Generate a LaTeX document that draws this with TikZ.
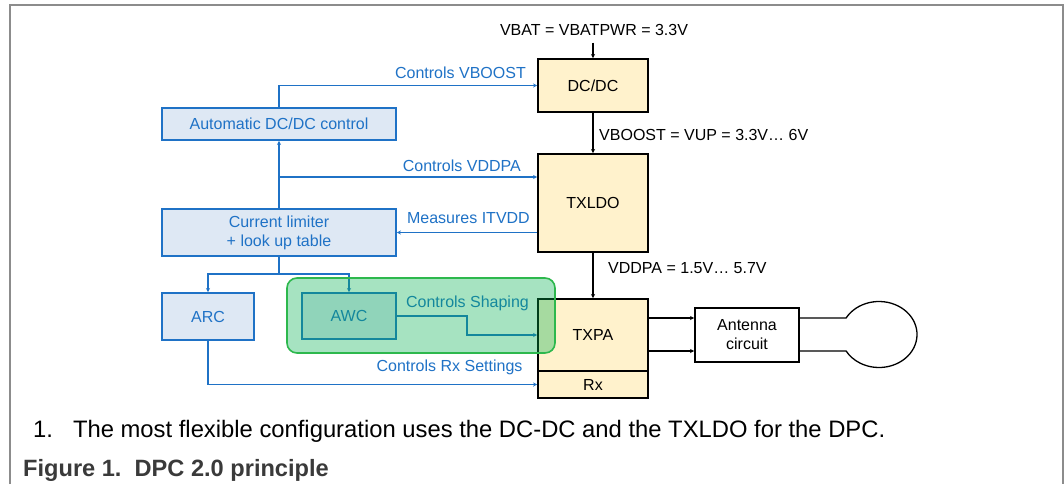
\documentclass[tikz,border=0pt]{standalone}
\usepackage{fontspec}
\setmainfont{Liberation Sans}
\usetikzlibrary{arrows.meta,calc}
\definecolor{myblue}{HTML}{1F72C6}
\definecolor{bfill}{HTML}{DEE8F4}
\definecolor{yfill}{HTML}{FFF2CC}
\definecolor{grnb}{HTML}{2DB84D}
\definecolor{grnf}{HTML}{00B050}
\definecolor{framegrey}{HTML}{8C8C8C}
\definecolor{capgrey}{HTML}{3A3A3A}
\begin{document}
\begin{tikzpicture}[x=1pt,y=-1pt,
 every node/.style={font=\fontsize{16}{19}\selectfont},
 yellowbox/.style={draw=black,line width=1.6pt,fill=yfill,minimum width=110pt,inner sep=0pt},
 bluebox/.style={draw=myblue,line width=1.6pt,fill=bfill,text=myblue,inner sep=0pt},
 bline/.style={myblue,line width=1.5pt},
 kline/.style={black,line width=1.3pt},
 tip/.style={-{Stealth[length=4.2pt,width=4.2pt]}},
 blab/.style={text=myblue,inner sep=0pt,text height=11.5pt,text depth=3.4pt},
 klab/.style={text=black,inner sep=0pt,text height=11.5pt,text depth=3.4pt},
]
\useasboundingbox (0,0) rectangle (1064,484);
\fill[white] (0,0) rectangle (1064,484);
\draw[framegrey,line width=1.2pt] (10,484) -- (10,5) -- (1063,5) -- (1063,484);

% power chain
\node[klab] (vbat) at (594,31) {VBAT = VBATPWR = 3.3V};
\node[yellowbox,minimum height=53pt] (dcdc) at (593,85.5) {DC/DC};
\node[yellowbox,minimum height=98pt] (txldo) at (593,203) {TXLDO};
\node[yellowbox,minimum height=72pt] (txpa) at (593,335) {TXPA};
\node[yellowbox,minimum height=27pt] (rx) at (593,384.5) {Rx};
\node[draw=black,line width=1.6pt,fill=white,minimum width=104pt,minimum height=54pt,align=center,inner sep=0pt] (ant) at (747,335) {Antenna\\circuit};

\draw[kline,tip] ([yshift=-4pt]vbat.south -| dcdc.north) -- (dcdc.north);
\draw[kline,tip] (dcdc.south) -- (txldo.north);
\node[klab,anchor=west] (vboost) at (599,136) {VBOOST = VUP = 3.3V… 6V};
\draw[kline,tip] (txldo.south) -- (txpa.north);
\node[klab,anchor=west] (vddpa) at (608,269) {VDDPA = 1.5V… 5.7V};

% control blocks
\node[bluebox,minimum width=234pt,minimum height=32pt] (auto) at (279,124) {Automatic DC/DC control};
\node[bluebox,minimum width=234pt,minimum height=47pt,align=center] (curlim) at (279,232.5) {Current limiter\\+ look up table};
\node[bluebox,minimum width=92pt,minimum height=47pt] (arc) at (208,316.5) {ARC};
\node[bluebox,minimum width=94pt,minimum height=46pt] (awc) at (349,316) {AWC};

\draw[bline,tip] (auto.north) |- (dcdc.west);
\node[blab,anchor=east] (l1) at (526,74) {Controls VBOOST};
\draw[bline,tip] (curlim.north) -- (auto.south);
\coordinate (br) at (279,177);
\draw[bline,tip] (br) -- (br -| txldo.west);
\node[blab,anchor=east] (l2) at (521,167) {Controls VDDPA};
\draw[bline,tip] (txldo.west |- curlim.east) -- (curlim.east);
\node[blab,anchor=east] (l3) at (530,219) {Measures ITVDD};
\coordinate (split) at (279,274);
\draw[bline] (curlim.south) -- (split);
\draw[bline,tip] (split) -| (arc.north);
\draw[bline,tip] (split) -| (awc.north);
\draw[bline,tip] (awc.east) -- (467,316) |- (txpa.west);
\node[blab] (l4) at (467.5,303) {Controls Shaping};
\draw[bline,tip] (arc.south) |- (rx.west);
\node[blab] (l5) at (449.5,367) {Controls Rx Settings};

% antenna
\draw[kline,tip] ([yshift=17pt]txpa.east) -- ([yshift=17pt]ant.west);
\draw[kline,tip] ([yshift=-16pt]txpa.east) -- ([yshift=-16pt]ant.west);
\draw[kline] ([yshift=17pt]ant.east) -- (846.1,318) arc[start angle=150,end angle=-150,x radius=38pt,y radius=33pt] -- ([yshift=-16pt]ant.east);

% highlight
\node[draw=grnb,line width=1.6pt,fill=grnf,fill opacity=0.35,rounded corners=10pt,minimum width=268pt,minimum height=75pt,inner sep=0pt] (hl) at (421,315.5) {};

% captions
\node[anchor=base west,inner sep=0pt,font=\fontsize{23.8}{28}\selectfont] (note) at (33,437) {1.\hspace{20pt}The most flexible configuration uses the DC-DC and the TXLDO for the DPC.};
\node[anchor=base west,inner sep=0pt,font=\fontsize{23.6}{28}\selectfont\bfseries,text=capgrey] (cap) at (23,476) {Figure 1.\ \ DPC 2.0 principle};
\end{tikzpicture}
\end{document}
